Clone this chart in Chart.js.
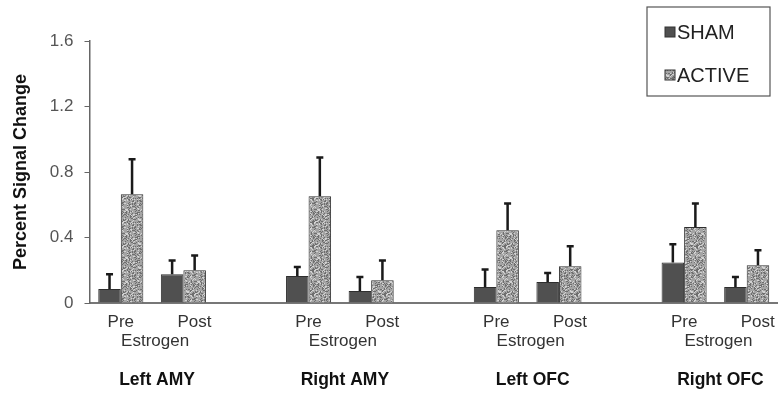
<!DOCTYPE html>
<html>
<head>
<meta charset="utf-8">
<script src="https://cdn.jsdelivr.net/npm/chart.js@4/dist/chart.umd.min.js"></script>
<style>
  html, body { margin: 0; padding: 0; background: #fff; }
  #chart { display: block; }
</style>
</head>
<body>
<canvas id="chart" width="778" height="397"></canvas>
<script>
const regions = ['Left AMY', 'Right AMY', 'Left OFC', 'Right OFC'];
const phases = ['Pre', 'Post'];
const seriesNames = ['SHAM', 'ACTIVE'];

// Pre, Post for each region in order
const shamMean = [0.085, 0.175, 0.165, 0.073, 0.098, 0.128, 0.247, 0.098];
const shamErr = [0.09, 0.085, 0.055, 0.086, 0.106, 0.055, 0.112, 0.061];
const activeMean = [0.664, 0.2, 0.652, 0.139, 0.444, 0.224, 0.464, 0.23];
const activeErr = [0.214, 0.09, 0.236, 0.121, 0.163, 0.122, 0.143, 0.092];

const yTicks = [0, 0.4, 0.8, 1.2, 1.6];

const FONT = "'Liberation Sans', Arial, sans-serif";

// one empty slot between regions
const labels = [];
function spread(arr) {
    const out = [];
    regions.forEach((r, g) => {
        out.push(arr[g * 2], arr[g * 2 + 1]);
        if (g < regions.length - 1) out.push(null);
    });
    return out;
}
regions.forEach((r, g) => {
    labels.push(phases[0], phases[1]);
    if (g < regions.length - 1) labels.push('');
});

// mottled grey texture for the ACTIVE bars
function makeSpeckle() {
    const c = document.createElement('canvas');
    c.width = 24; c.height = 24;
    const ctx = c.getContext('2d');
    ctx.fillStyle = '#a4a4a4';
    ctx.fillRect(0, 0, 24, 24);
    for (let y = 0; y < 24; y++) {
        for (let x = 0; x < 24; x++) {
            const h = Math.abs(Math.sin(x * 12.9898 + y * 78.233) * 43758.5453) % 1;
            if (h < 0.22) { ctx.fillStyle = '#6e6e6e'; ctx.fillRect(x, y, 1, 1); }
            else if (h > 0.8) { ctx.fillStyle = '#d2d2d2'; ctx.fillRect(x, y, 1, 1); }
        }
    }
    return document.getElementById('chart').getContext('2d').createPattern(c, 'repeat');
}
const speckle = makeSpeckle();

const errorBars = {
    id: 'errorBars',
    afterDatasetsDraw(chart) {
        const ctx = chart.ctx;
        const y = chart.scales.y;
        ctx.save();
        ctx.strokeStyle = '#1a1a1a';
        ctx.lineWidth = 2.5;
        chart.data.datasets.forEach((ds, di) => {
            const meta = chart.getDatasetMeta(di);
            meta.data.forEach((bar, i) => {
                const v = ds.data[i];
                if (v == null) return;
                const top = y.getPixelForValue(v + ds.errors[i]);
                ctx.beginPath();
                ctx.moveTo(bar.x, bar.y);
                ctx.lineTo(bar.x, top);
                ctx.moveTo(bar.x - 3.5, top);
                ctx.lineTo(bar.x + 3.5, top);
                ctx.stroke();
            });
        });
        ctx.restore();
    }
};

const groupLabels = {
    id: 'groupLabels',
    afterDraw(chart) {
        const ctx = chart.ctx;
        const x = chart.scales.x;
        const base = chart.chartArea.bottom;
        ctx.save();
        ctx.textAlign = 'center';
        ctx.textBaseline = 'middle';
        regions.forEach((r, g) => {
            const preX = x.getPixelForValue(g * 3);
            const postX = x.getPixelForValue(g * 3 + 1);
            const mid = (preX + postX) / 2;
            ctx.fillStyle = '#333';
            ctx.font = '17px ' + FONT;
            ctx.fillText(phases[0], preX, base + 19);
            ctx.fillText(phases[1], postX + 11, base + 19);
            ctx.fillText('Estrogen', mid + 3, base + 38);
            ctx.fillStyle = '#111';
            ctx.font = 'bold 17.5px ' + FONT;
            ctx.fillText(r, mid + 5, base + 77);
        });
        ctx.restore();
    }
};

const boxLegend = {
    id: 'boxLegend',
    afterDraw(chart) {
        const ctx = chart.ctx;
        const right = chart.width - 8;
        const left = right - 123;
        ctx.save();
        ctx.fillStyle = '#fff';
        ctx.fillRect(left, 7, right - left, 89);
        ctx.strokeStyle = '#555';
        ctx.lineWidth = 1.2;
        ctx.strokeRect(left, 7, right - left, 89);
        ctx.font = '20px ' + FONT;
        ctx.textBaseline = 'middle';
        ctx.textAlign = 'left';
        const rows = [32, 75];
        chart.data.datasets.forEach((ds, i) => {
            ctx.fillStyle = ds.backgroundColor;
            ctx.fillRect(left + 18, rows[i] - 5, 10, 10);
            ctx.strokeStyle = '#333';
            ctx.lineWidth = 1;
            ctx.strokeRect(left + 18, rows[i] - 5, 10, 10);
            ctx.fillStyle = '#222';
            ctx.fillText(ds.label, left + 30, rows[i] + 1);
        });
        ctx.restore();
    }
};

new Chart(document.getElementById('chart'), {
    type: 'bar',
    data: {
        labels: labels,
        datasets: [
            {
                label: seriesNames[0],
                data: spread(shamMean),
                errors: spread(shamErr),
                backgroundColor: '#505050',
                borderColor: '#2e2e2e',
                borderWidth: 1
            },
            {
                label: seriesNames[1],
                data: spread(activeMean),
                errors: spread(activeErr),
                backgroundColor: speckle,
                borderColor: '#2e2e2e',
                borderWidth: 1
            }
        ]
    },
    options: {
        responsive: false,
        animation: false,
        layout: { padding: { top: 41, right: 0, left: 0, bottom: 0 } },
        datasets: { bar: { categoryPercentage: 0.72, barPercentage: 1.0 } },
        plugins: {
            legend: { display: false },
            tooltip: { enabled: false }
        },
        scales: {
            x: {
                offset: true,
                grid: { display: false },
                border: { display: true, color: '#777', width: 2 },
                ticks: { display: false },
                afterFit: (s) => { s.height = 94; }
            },
            y: {
                min: 0,
                max: 1.6,
                afterBuildTicks: (s) => { s.ticks = yTicks.map(v => ({ value: v })); },
                grid: { drawOnChartArea: false, drawTicks: true, tickLength: 5, color: '#666' },
                border: { display: true, color: '#666', width: 1.5 },
                ticks: {
                    padding: 11,
                    color: '#555',
                    font: { family: FONT, size: 17 },
                    callback: (v) => String(v)
                },
                title: {
                    display: true,
                    text: 'Percent Signal Change',
                    color: '#111',
                    font: { family: FONT, size: 18, weight: 'bold' },
                    padding: { top: 10, bottom: 0 }
                },
                afterFit: (s) => { s.width = 89.5; }
            }
        }
    },
    plugins: [errorBars, groupLabels, boxLegend]
});
</script>
</body>
</html>
